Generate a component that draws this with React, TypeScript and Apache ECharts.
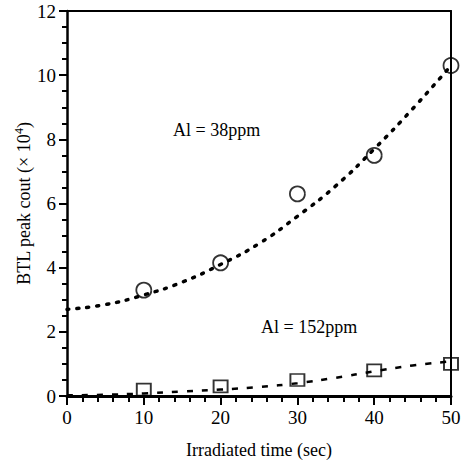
import React, { useEffect, useRef } from "react";
import * as echarts from "echarts";

const times = [10, 20, 30, 40, 50];
const al38 = [3.3, 4.15, 6.3, 7.5, 10.3];
const al152 = [0.2, 0.3, 0.5, 0.8, 1.0];
const fitX = [0, 5, 10, 15, 20, 25, 30, 35, 40, 45, 50];
const fit38 = [2.7, 2.85, 3.15, 3.55, 4.1, 4.75, 5.6, 6.55, 7.7, 8.95, 10.3];
const fit152 = [0.02, 0.04, 0.08, 0.14, 0.2, 0.28, 0.4, 0.57, 0.77, 0.95, 1.08];
const xTicks = [0, 10, 20, 30, 40, 50];
const yTicks = [0, 2, 4, 6, 8, 10, 12];

const FONT = "Liberation Serif";

export default function App() {
  const ref = useRef<HTMLDivElement>(null);
  useEffect(() => {
    const chart = echarts.init(ref.current!, undefined, { renderer: "svg" });
    chart.setOption({
      animation: false,
      backgroundColor: "#fff",
      grid: { left: 67, top: 11, right: 16, bottom: 64 },
      xAxis: [
        {
          type: "value",
          min: xTicks[0],
          max: xTicks[xTicks.length - 1],
          interval: 10,
          splitLine: { show: false },
          axisLine: { lineStyle: { color: "#000", width: 3 } },
          axisTick: { length: 9, lineStyle: { color: "#000", width: 2 } },
          minorTick: { show: true, splitNumber: 5, length: 6, lineStyle: { color: "#000", width: 2 } },
          axisLabel: { color: "#000", fontFamily: FONT, fontSize: 19, margin: 12 },
          name: "Irradiated time (sec)",
          nameLocation: "middle",
          nameGap: 45,
          nameMoveOverlap: false,
          nameTextStyle: { color: "#000", fontFamily: FONT, fontSize: 18 },
        },
        {
          type: "value",
          position: "top",
          min: 0,
          max: 50,
          axisLine: { show: true, onZero: false, lineStyle: { color: "#000", width: 2 } },
          axisTick: { show: false },
          axisLabel: { show: false },
          splitLine: { show: false },
        },
      ],
      yAxis: [
        {
          type: "value",
          min: yTicks[0],
          max: yTicks[yTicks.length - 1],
          interval: 2,
          splitLine: { show: false },
          axisLine: { lineStyle: { color: "#000", width: 2.5 } },
          axisTick: { length: 8, lineStyle: { color: "#000", width: 2 } },
          minorTick: { show: true, splitNumber: 4, length: 5, lineStyle: { color: "#000", width: 2 } },
          axisLabel: { color: "#000", fontFamily: FONT, fontSize: 19, margin: 11 },
          name: "BTL peak cout (\u00d7 10{sup|4})",
          nameLocation: "middle",
          nameGap: 32,
          nameMoveOverlap: false,
          nameTextStyle: {
            color: "#000",
            fontFamily: FONT,
            fontSize: 18,
            rich: { sup: { color: "#000", fontFamily: FONT, fontSize: 12, verticalAlign: "top", padding: [0, 0, 10, 0] } },
          },
        },
        {
          type: "value",
          position: "right",
          min: 0,
          max: 12,
          axisLine: { show: true, onZero: false, lineStyle: { color: "#000", width: 2 } },
          axisTick: { show: false },
          axisLabel: { show: false },
          splitLine: { show: false },
        },
      ],
      series: [
        {
          type: "line",
          data: fitX.map((x, i) => [x, fit38[i]]),
          smooth: true,
          showSymbol: false,
          lineStyle: { color: "#000", width: 3.5, type: [2, 8], cap: "round" },
          z: 2,
        },
        {
          type: "line",
          data: fitX.map((x, i) => [x, fit152[i]]),
          smooth: true,
          showSymbol: false,
          lineStyle: { color: "#000", width: 2.5, type: [6, 9] },
          z: 2,
        },
        {
          type: "scatter",
          data: times.map((x, i) => [x, al38[i]]),
          symbol: "circle",
          symbolSize: 15,
          itemStyle: { color: "transparent", borderColor: "#000", borderWidth: 1.8 },
          z: 3,
        },
        {
          type: "scatter",
          data: times.map((x, i) => [x, al152[i]]),
          symbol: "rect",
          symbolSize: [14, 12],
          itemStyle: { color: "transparent", borderColor: "#000", borderWidth: 1.8 },
          z: 3,
        },
      ],
      graphic: [
        {
          type: "text",
          left: 173,
          top: 121,
          style: { text: "Al = 38ppm", font: `18px "${FONT}"`, fill: "#000" },
        },
        {
          type: "text",
          left: 261,
          top: 318,
          style: { text: "Al = 152ppm", font: `18px "${FONT}"`, fill: "#000" },
        },
      ],
    });
    return () => chart.dispose();
  }, []);
  return <div ref={ref} style={{ width: 467, height: 464, position: "absolute", left: 0, top: 0 }} />;
}
